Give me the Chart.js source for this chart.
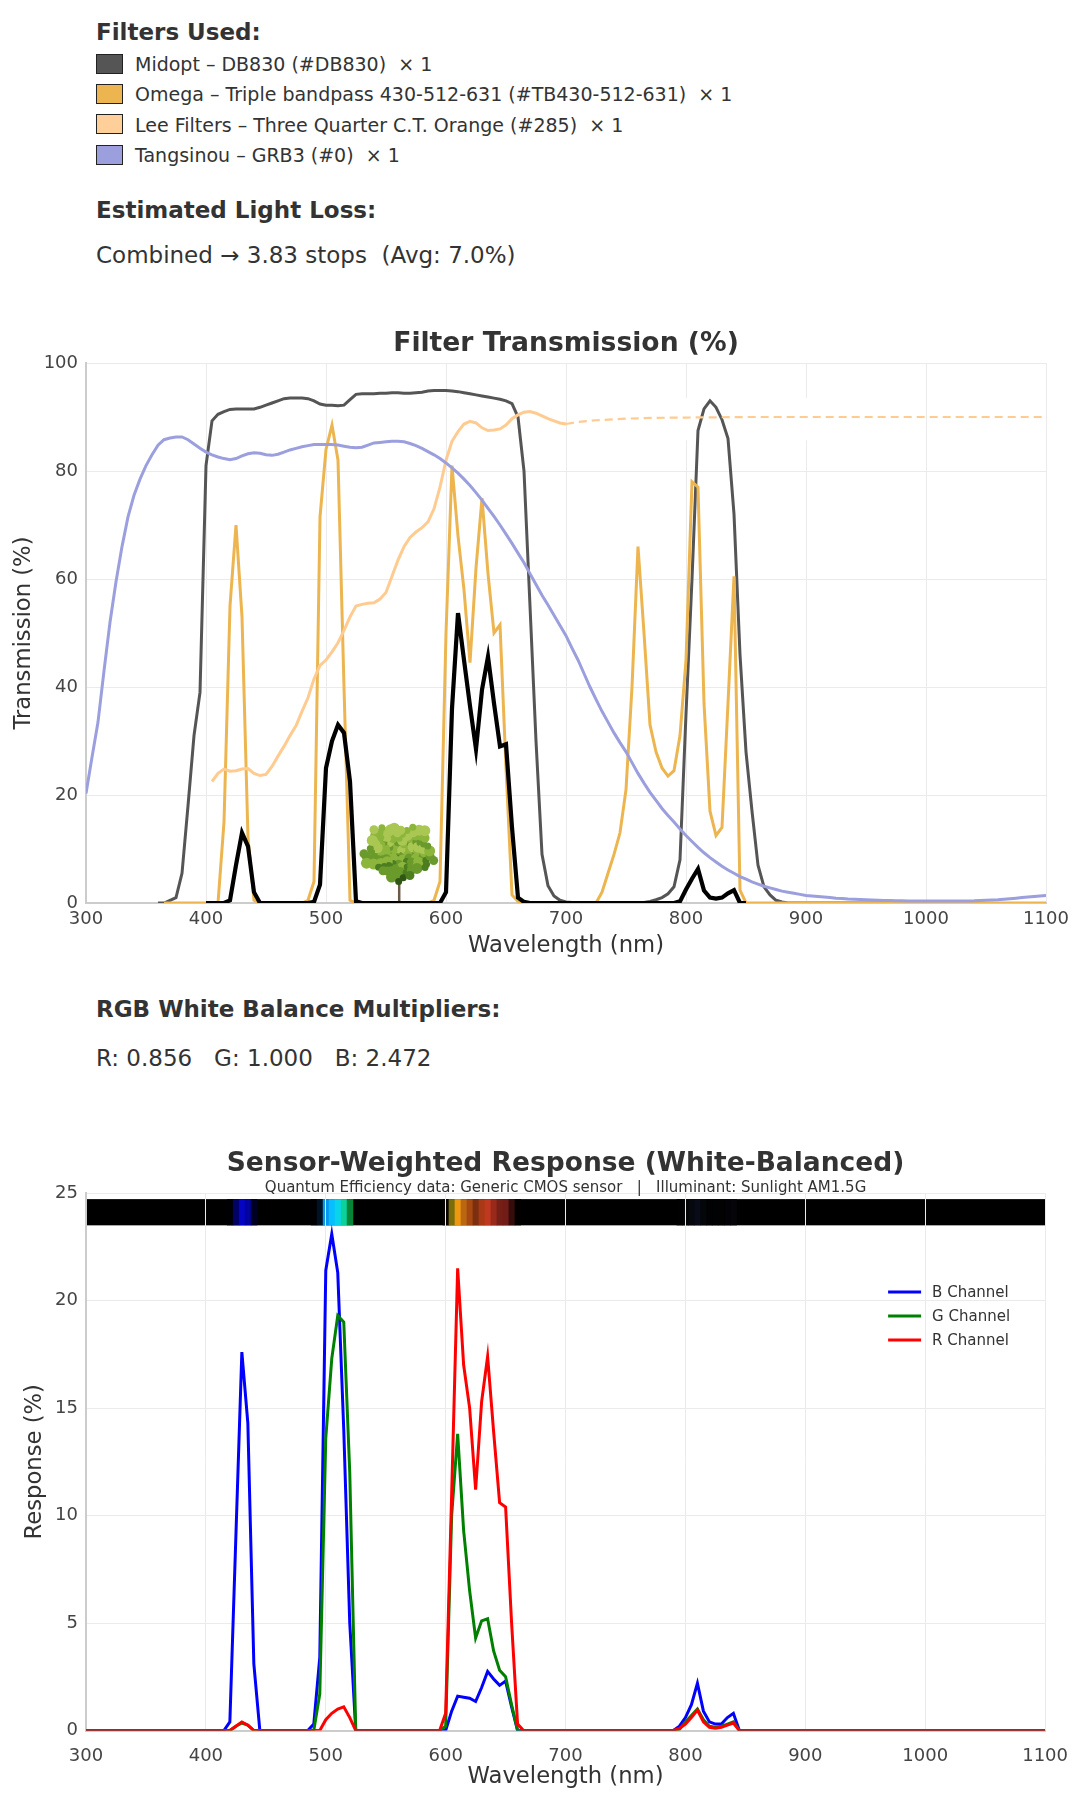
<!DOCTYPE html>
<html lang="en">
<head>
<meta charset="UTF-8">
<title>Filter Transmission</title>
<script src="https://cdn.jsdelivr.net/npm/chart.js@4.4.1/dist/chart.umd.min.js"></script>
<style>
  body { margin: 0; background: #fff; font-family: 'DejaVu Sans', sans-serif; color: #333; }
  #page { position: relative; width: 1083px; height: 1800px; }
  .txt { position: absolute; left: 96px; white-space: pre; }
  .head { font-size: 23px; line-height: 28px; font-weight: bold; }
  .body { font-size: 23px; line-height: 28px; }
  .row { position: absolute; left: 96px; height: 24px; font-size: 19px; line-height: 24px; white-space: pre; }
  .sw { position: absolute; left: 0; top: 1.5px; width: 25px; height: 18px; border: 1.5px solid #222; }
  .row span.l { position: absolute; left: 39px; top: 0; }
  .wrap { position: absolute; left: 0; width: 1083px; }
</style>
</head>
<body>
<div id="page">
  <div class="txt head" style="top:18px">Filters Used:</div>
  <div class="row" style="top:52px"><div class="sw" style="background:#555555"></div><span class="l">Midopt – DB830 (#DB830)  × 1</span></div>
  <div class="row" style="top:82px"><div class="sw" style="background:#ecb550"></div><span class="l">Omega – Triple bandpass 430-512-631 (#TB430-512-631)  × 1</span></div>
  <div class="row" style="top:112.5px"><div class="sw" style="background:#ffcf99"></div><span class="l">Lee Filters – Three Quarter C.T. Orange (#285)  × 1</span></div>
  <div class="row" style="top:143px"><div class="sw" style="background:#9b9fde"></div><span class="l">Tangsinou – GRB3 (#0)  × 1</span></div>

  <div class="txt head" style="top:196px">Estimated Light Loss:</div>
  <div class="txt body" style="top:241px">Combined → 3.83 stops  (Avg: 7.0%)</div>

  <div class="wrap" style="top:320px; height:640px;"><canvas id="filterChart"></canvas></div>

  <div class="txt head" style="top:995px">RGB White Balance Multipliers:</div>
  <div class="txt body" style="top:1044px">R: 0.856   G: 1.000   B: 2.472</div>

  <div class="wrap" style="top:1140px; height:655px;"><canvas id="sensorChart"></canvas></div>
</div>

<script>
// ---- filter transmission (%), 5 nm steps from the given start wavelength ----
const midoptStart = 360;
const midoptT = [0, 0, 0.5, 1, 5.5, 18, 31, 39, 81, 89.3, 90.5, 91, 91.4, 91.5, 91.5, 91.5, 91.5, 91.8, 92.2, 92.6,
  93, 93.4, 93.5, 93.5, 93.5, 93.4, 93, 92.4, 92.2, 92.2, 92.1, 92.2, 93.2, 94.2, 94.3, 94.3, 94.3, 94.4, 94.4, 94.5,
  94.5, 94.4, 94.4, 94.5, 94.6, 94.8, 94.9, 94.9, 94.9, 94.8, 94.7, 94.5, 94.3, 94.1, 93.9, 93.7, 93.5, 93.3, 93, 92.5,
  90, 80, 55, 30, 9, 3.2, 1.3, 0.5, 0.2, 0.1, 0.1, 0.1, 0.1, 0.1, 0.1, 0.1, 0.1, 0.1, 0.1, 0.1, 0.1, 0.1,
  0.3, 0.6, 1, 1.7, 3, 8, 35, 60, 87.5, 91.5, 93, 91.8, 89.5, 86, 72, 46, 28, 17, 7, 3, 1.5, 0.5, 0.2,
  0, 0, 0, 0, 0, 0, 0, 0, 0, 0, 0, 0, 0, 0, 0, 0, 0, 0, 0, 0];

const omegaStart = 365;
const omegaT = [0, 0, 0, 0, 0, 0, 0, 0, 0, 0, 15, 55, 70, 53, 12, 0.5, 0, 0, 0, 0, 0, 0, 0, 0, 0.5, 4,
  71.5, 84, 88.5, 82, 40, 0.5, 0, 0, 0, 0, 0, 0, 0, 0, 0, 0, 0, 0, 0, 0.5,
  4, 50, 81, 68, 58, 44.5, 62, 75, 61, 50, 51.5, 25, 1.5, 0.3, 0, 0, 0, 0, 0, 0, 0, 0, 0, 0, 0, 0, 0,
  2, 5.5, 9, 13, 21, 40, 66, 50, 33, 28, 25, 23.5, 24.5, 31, 45, 78, 77, 37, 17, 12.5, 14, 37, 60.5, 2.4, 0,
  0, 0, 0, 0, 0, 0, 0, 0, 0, 0, 0, 0, 0, 0, 0, 0, 0, 0, 0, 0, 0, 0, 0, 0, 0, 0, 0, 0, 0, 0,
  0, 0, 0, 0, 0, 0, 0, 0, 0, 0, 0, 0, 0, 0, 0, 0, 0, 0, 0, 0, 0, 0, 0, 0, 0, 0, 0, 0, 0, 0, 0];

const leeStart = 405;
const leeT = [22.5, 24, 24.8, 24.4, 24.5, 24.8, 24.9, 24, 23.6, 23.8, 25.3, 27.2, 29, 31, 32.8, 35.5, 38, 41.5, 44, 45,
  46.5, 48.2, 50.5, 53, 55, 55.3, 55.5, 55.6, 56.3, 57.5, 60.5, 63.5, 66, 67.7, 68.7, 69.5, 70.6, 73, 77, 82,
  85.5, 87.3, 88.7, 89.2, 88.9, 88, 87.5, 87.6, 87.8, 88.5, 89.7, 90.4, 90.9, 91, 90.7, 90.2, 89.7, 89.3, 88.9, 88.7];
// Lee curve beyond its measured range (dashed)
const leeExtNm = [700, 710, 725, 750, 775, 800, 850, 900, 1000, 1100];
const leeExtT = [88.7, 89.1, 89.4, 89.7, 89.85, 89.9, 90, 90, 90, 90];

const tangStart = 300;
const tangT = [20.3, 27, 33.5, 43, 52, 59.5, 66, 71.5, 75.5, 78.5, 81, 83, 84.8, 85.8, 86.1, 86.3, 86.3, 85.8, 85, 84.2,
  83.5, 83, 82.6, 82.3, 82.1, 82.3, 82.8, 83.2, 83.4, 83.3, 83, 82.9, 83.1, 83.5, 83.9, 84.2, 84.5, 84.7, 84.9, 84.9,
  84.9, 84.9, 84.8, 84.6, 84.4, 84.3, 84.4, 84.8, 85.2, 85.3, 85.4, 85.5, 85.5, 85.4, 85.1, 84.7, 84.2, 83.6, 83, 82.3,
  81.5, 80.6, 79.6, 78.5, 77.3, 76, 74.6, 73.1, 71.6, 70, 68.3, 66.6, 64.8, 63, 61, 59, 57, 55.2, 53.3, 51.4,
  49.5, 47.2, 45, 42.5, 40, 37.7, 35.5, 33.5, 31.5, 29.7, 28, 26, 24, 22.2, 20.5, 19, 17.5, 16.2, 15, 13.7,
  12.5, 11.4, 10.3, 9.3, 8.4, 7.6, 6.8, 6.1, 5.5, 4.9, 4.4, 3.9, 3.5, 3.1, 2.8, 2.5, 2.2, 2, 1.8, 1.6,
  1.4, 1.3, 1.2, 1.1, 1, 0.9, 0.85, 0.75, 0.7, 0.65, 0.6, 0.55, 0.5, 0.47, 0.45, 0.42, 0.4, 0.38, 0.36, 0.35,
  0.35, 0.35, 0.35, 0.35, 0.35, 0.36, 0.38, 0.39, 0.4, 0.45, 0.5, 0.55, 0.6, 0.7, 0.8, 0.9, 1, 1.1, 1.2, 1.3, 1.4];

const combinedStart = 400;
const combinedT = [0, 0, 0, 0, 0.5, 7, 13, 10.5, 2, 0, 0, 0, 0, 0, 0, 0, 0, 0, 0.2, 3.4,
  25, 30, 33, 31.5, 22.5, 0.3, 0, 0, 0, 0, 0, 0, 0, 0, 0, 0, 0, 0, 0, 0,
  2, 36, 53.7, 45, 36.5, 28.5, 39.5, 45.6, 37, 29, 29.4, 14, 1, 0.2, 0, 0, 0, 0, 0, 0,
  0, 0, 0, 0, 0, 0, 0, 0, 0, 0, 0, 0, 0, 0, 0, 0, 0, 0, 0, 0.3,
  2.5, 4.5, 6.3, 2.3, 1, 0.8, 1, 1.8, 2.4, 0, 0];

// ---- sensor-weighted response (%) ----
const responseNm = [300, 410, 415, 420, 425, 430, 435, 440, 445, 450,
  480, 485, 490, 495, 500, 505, 510, 515, 520, 525, 530,
  590, 595, 600, 605, 610, 615, 620, 625, 630, 635, 640, 645, 650, 655, 660, 665,
  785, 790, 795, 800, 805, 810, 815, 820, 825, 830, 835, 840, 845, 850, 1100];
const responseB = [0, 0, 0, 0.4, 9, 17.6, 14.3, 3.1, 0, 0,
  0, 0, 0.3, 3.4, 21.4, 23.1, 21.3, 14, 5, 0, 0,
  0, 0, 0, 0.9, 1.6, 1.55, 1.5, 1.35, 2, 2.75, 2.4, 2.1, 2.3, 1.1, 0, 0,
  0, 0, 0.2, 0.6, 1.2, 2.2, 0.9, 0.4, 0.3, 0.3, 0.6, 0.8, 0, 0, 0];
const responseG = [0, 0, 0, 0, 0.2, 0.35, 0.25, 0, 0, 0,
  0, 0, 0, 1.7, 13.6, 17.3, 19.3, 19, 12, 0, 0,
  0, 0, 0.2, 10, 13.8, 9.3, 6.5, 4.3, 5.1, 5.2, 3.7, 2.8, 2.5, 1.2, 0, 0,
  0, 0, 0.05, 0.4, 0.7, 1, 0.5, 0.2, 0.15, 0.2, 0.3, 0.4, 0, 0, 0];
const responseR = [0, 0, 0, 0, 0.2, 0.4, 0.25, 0, 0, 0,
  0, 0, 0, 0, 0.5, 0.8, 1, 1.1, 0.6, 0, 0,
  0, 0, 0.8, 11, 21.5, 17, 15, 11.2, 15.3, 17.4, 13.9, 10.6, 10.4, 5, 0.3, 0,
  0, 0, 0.1, 0.3, 0.6, 0.95, 0.4, 0.15, 0.1, 0.15, 0.25, 0.35, 0, 0, 0];

const xTicks = [300, 400, 500, 600, 700, 800, 900, 1000, 1100];

function fromStart(start, values) {
  return values.map((v, i) => ({ x: start + 5 * i, y: v }));
}
function fromPairs(nm, values) {
  return values.map((v, i) => ({ x: nm[i], y: v }));
}

Chart.defaults.font.family = "'DejaVu Sans', sans-serif";
Chart.defaults.color = '#444';

function axisX(tickPad, titleBottom, height) {
  return {
    type: 'linear', min: 300, max: 1100,
    afterBuildTicks: s => { s.ticks = xTicks.map(v => ({ value: v })); },
    ticks: { padding: tickPad, font: { size: 18 }, color: '#444', callback: v => String(v) },
    grid: { color: '#ebebeb', drawTicks: false },
    border: { color: '#cccccc', width: 2 },
    title: { display: true, text: 'Wavelength (nm)', color: '#333', font: { size: 22.7 }, padding: { top: 0, bottom: titleBottom } },
    afterFit: s => { s.height = height; }
  };
}
function axisY(max, step, label, titleTop) {
  return {
    min: 0, max: max,
    ticks: { stepSize: step, padding: 8, font: { size: 18 }, color: '#444' },
    grid: { color: '#ebebeb', drawTicks: false },
    border: { color: '#cccccc', width: 2 },
    title: { display: true, text: label, color: '#333', font: { size: 22.7 }, padding: { top: titleTop, bottom: 0 } },
    afterFit: s => { s.width = 86; }
  };
}

// small tree drawn near the floor of the transmission plot
const treePlugin = {
  id: 'tree',
  beforeDatasetsDraw(chart) {
    const { ctx, scales: { x, y } } = chart;
    // faint empty panel that hides the grid in the upper right
    ctx.save();
    ctx.fillStyle = 'rgba(255,255,255,0.92)';
    const px0 = x.getPixelForValue(797), px1 = x.getPixelForValue(905);
    const py0 = y.getPixelForValue(93.5), py1 = y.getPixelForValue(85.7);
    ctx.fillRect(px0, py0, px1 - px0, py1 - py0);
    ctx.restore();

    const cx = x.getPixelForValue(561);
    const base = y.getPixelForValue(0);
    const top = y.getPixelForValue(15);
    const bot = y.getPixelForValue(4);
    const rx = (x.getPixelForValue(593) - x.getPixelForValue(529)) / 2;
    const cy = (top + bot) / 2, ry = (bot - top) / 2;
    ctx.save();
    ctx.strokeStyle = '#6b5a47';
    ctx.lineWidth = 2.5;
    ctx.beginPath(); ctx.moveTo(cx, base); ctx.lineTo(cx, cy + 4); ctx.stroke();
    ctx.lineWidth = 1.3;
    ctx.beginPath();
    ctx.moveTo(cx, cy + ry * 0.7); ctx.lineTo(cx - rx * 0.45, cy + ry * 0.15);
    ctx.moveTo(cx, cy + ry * 0.5); ctx.lineTo(cx + rx * 0.5, cy);
    ctx.stroke();
    const greens = ['#2f5614', '#4c7d1f', '#6a9a2b', '#8cb53c', '#a9c752'];
    const n = 110;
    for (let k = 0; k < n; k++) {
      const a = k * 2.39996;
      const r = Math.sqrt((k + 0.5) / n);
      const wob = 1 + 0.12 * Math.sin(a * 5);
      const px = cx + Math.cos(a) * r * (rx - 4) * wob;
      const py = cy + Math.sin(a) * r * (ry - 3) * wob;
      const shade = Math.max(0, Math.min(4, Math.round(2.6 - (py - cy) / ry * 1.6 + ((k * 7) % 3 - 1) * 0.8)));
      ctx.fillStyle = greens[shade];
      ctx.beginPath(); ctx.arc(px, py, 3.5 + (k % 3), 0, Math.PI * 2); ctx.fill();
    }
    ctx.restore();
  }
};

new Chart(document.getElementById('filterChart'), {
  type: 'line',
  data: {
    datasets: [
      { label: 'Combined', data: fromStart(combinedStart, combinedT), borderColor: '#000000', borderWidth: 4.2, order: 0 },
      { label: 'Tangsinou – GRB3', data: fromStart(tangStart, tangT), borderColor: '#9b9fde', borderWidth: 3, order: 1 },
      { label: 'Lee Filters – 285', data: fromStart(leeStart, leeT), borderColor: '#ffcb90', borderWidth: 3, order: 2 },
      { label: 'Lee Filters – 285 (ext)', data: fromPairs(leeExtNm, leeExtT), borderColor: '#ffcb90', borderWidth: 2.2, borderDash: [8, 5], order: 2 },
      { label: 'Omega – TB430-512-631', data: fromStart(omegaStart, omegaT), borderColor: '#ecb550', borderWidth: 3, order: 3 },
      { label: 'Midopt – DB830', data: fromStart(midoptStart, midoptT), borderColor: '#555555', borderWidth: 3, order: 4 }
    ]
  },
  options: {
    responsive: true, maintainAspectRatio: false, animation: false,
    layout: { padding: { left: 0, right: 37, top: 0, bottom: 0 } },
    elements: { point: { radius: 0 }, line: { tension: 0, fill: false } },
    plugins: {
      legend: { display: false },
      tooltip: { enabled: false },
      title: { display: true, fullSize: false, text: 'Filter Transmission (%)', color: '#333', font: { size: 26.6, weight: 'bold', lineHeight: 1.2 }, padding: { top: 8.3, bottom: 2.8 } }
    },
    scales: { x: axisX(5.8, 0.4, 57), y: axisY(100, 20, 'Transmission (%)', 10.4) }
  },
  plugins: [treePlugin]
});

// colour strip along the top of the response plot, coloured from the channel values
const bandPlugin = {
  id: 'band',
  beforeDraw(chart) {
    const { ctx, chartArea, scales: { x, y } } = chart;
    const yTop = y.getPixelForValue(24.72), yBot = y.getPixelForValue(23.5);
    ctx.save();
    ctx.fillStyle = '#000';
    ctx.fillRect(chartArea.left, yTop, chartArea.right - chartArea.left, yBot - yTop);
    const c = v => Math.min(255, Math.round(v * 11));
    responseNm.forEach((nm, i) => {
      const r = c(responseR[i]), g = c(responseG[i]), b = c(responseB[i]);
      if (r + g + b === 0) return;
      const x0 = x.getPixelForValue(nm - 2.5), x1 = x.getPixelForValue(nm + 2.5);
      ctx.fillStyle = `rgb(${r},${g},${b})`;
      ctx.fillRect(x0, yTop, x1 - x0 + 0.5, yBot - yTop);
    });
    ctx.restore();
  }
};

const sensorLegend = {
  id: 'sensorLegend',
  afterDraw(chart) {
    const { ctx, chartArea } = chart;
    const items = [['B Channel', '#0000ff'], ['G Channel', '#008000'], ['R Channel', '#ff0000']];
    ctx.save();
    ctx.font = "15px 'DejaVu Sans', sans-serif";
    ctx.textBaseline = 'middle';
    items.forEach(([label, color], i) => {
      const yy = chartArea.top + 99 + i * 24;
      ctx.strokeStyle = color;
      ctx.lineWidth = 3;
      ctx.beginPath(); ctx.moveTo(chartArea.right - 157, yy); ctx.lineTo(chartArea.right - 124, yy); ctx.stroke();
      ctx.fillStyle = '#333';
      ctx.fillText(label, chartArea.right - 113, yy + 1);
    });
    ctx.restore();
  }
};

new Chart(document.getElementById('sensorChart'), {
  type: 'line',
  data: {
    datasets: [
      { label: 'B Channel', data: fromPairs(responseNm, responseB), borderColor: '#0000ff', borderWidth: 3, order: 2 },
      { label: 'G Channel', data: fromPairs(responseNm, responseG), borderColor: '#008000', borderWidth: 3, order: 1 },
      { label: 'R Channel', data: fromPairs(responseNm, responseR), borderColor: '#ff0000', borderWidth: 3, order: 0 }
    ]
  },
  options: {
    responsive: true, maintainAspectRatio: false, animation: false,
    layout: { padding: { left: 0, right: 37, top: 0, bottom: 0 } },
    elements: { point: { radius: 0 }, line: { tension: 0, fill: false } },
    plugins: {
      legend: { display: false },
      tooltip: { enabled: false },
      title: { display: true, fullSize: false, text: 'Sensor-Weighted Response (White-Balanced)', color: '#333', font: { size: 26.5, weight: 'bold', lineHeight: 0.9 }, padding: { top: 12.6, bottom: 0 } },
      subtitle: { display: true, fullSize: false, text: 'Quantum Efficiency data: Generic CMOS sensor   |   Illuminant: Sunlight AM1.5G', color: '#333', font: { size: 15, lineHeight: 0.6 }, padding: { top: 7.65, bottom: 0 } }
    },
    scales: { x: axisX(15, 4.6, 64.5), y: axisY(25, 5, 'Response (%)', 21.9) }
  },
  plugins: [bandPlugin, sensorLegend]
});
</script>
</body>
</html>
